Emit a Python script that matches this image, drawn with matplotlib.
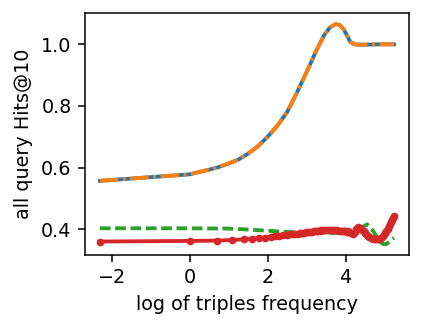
import numpy as np
import matplotlib
matplotlib.use('Agg')
import matplotlib.pyplot as plt

# upper curve (both metrics coincide)
x_top = [-2.30, 0.00, 0.25, 0.50, 0.75, 1.00, 1.25, 1.50, 1.75, 2.00, 2.25,
         2.50, 2.75, 3.00, 3.25, 3.45, 3.60, 3.75, 3.85, 3.95, 4.05, 4.12,
         4.20, 4.30, 4.50, 4.80, 5.00, 5.24]
y_top = [0.557, 0.578, 0.586, 0.593, 0.602, 0.613, 0.626, 0.645, 0.669, 0.700,
         0.736, 0.780, 0.843, 0.910, 0.980, 1.030, 1.055, 1.066, 1.062, 1.049,
         1.025, 1.008, 1.001, 0.999, 0.999, 1.000, 1.000, 1.000]

# green dashed curve
x_green = [-2.30, 0.00, 1.00, 1.50, 2.00, 2.50, 3.00, 3.50, 4.00, 4.20, 4.40,
           4.55, 4.70, 4.85, 4.95, 5.05, 5.15, 5.24]
y_green = [0.403, 0.403, 0.402, 0.399, 0.395, 0.391, 0.389, 0.388, 0.388, 0.390,
           0.405, 0.416, 0.395, 0.365, 0.352, 0.352, 0.363, 0.372]

# red curve, one point per triple frequency
freq = [0.1, 1, 2, 3, 4, 5, 6, 7, 8, 9, 10, 11, 12, 13, 14, 15, 16, 17, 18, 19,
        20, 21, 22, 23, 24, 25, 26, 27, 28, 29, 30, 32, 34, 36, 38, 40, 42, 44,
        46, 48, 50, 52, 54, 56, 58, 60, 63, 66, 69, 72, 75, 78, 81, 84, 87, 90,
        93, 96, 99, 105, 110, 115, 120, 125, 130, 135, 140, 145, 150, 155, 160,
        165, 170, 175, 180, 185, 190]
y_red = [0.360, 0.362, 0.363, 0.365, 0.367, 0.369, 0.371, 0.373, 0.375, 0.377,
         0.379, 0.380, 0.381, 0.383, 0.384, 0.385, 0.386, 0.387, 0.388, 0.389,
         0.390, 0.391, 0.392, 0.392, 0.393, 0.394, 0.394, 0.395, 0.395, 0.396,
         0.396, 0.397, 0.397, 0.397, 0.397, 0.396, 0.396, 0.396, 0.395, 0.395,
         0.394, 0.394, 0.393, 0.392, 0.393, 0.391, 0.389, 0.386, 0.390, 0.401,
         0.407, 0.405, 0.402, 0.397, 0.393, 0.389, 0.383, 0.378, 0.374, 0.371,
         0.369, 0.368, 0.368, 0.367, 0.368, 0.370, 0.374, 0.381, 0.388, 0.395,
         0.402, 0.409, 0.417, 0.424, 0.431, 0.437, 0.442]

fig = plt.figure(figsize=(423 / 138, 328 / 138), dpi=138)
ax = fig.add_axes([85 / 423, 1 - 255 / 328, 324 / 423, 242 / 328])

ax.plot(x_top, y_top, '-', color='C0', lw=2)
ax.plot(x_top, y_top, '-.', color='C1', lw=2, dashes=(4.8, 1.2, 0.75, 1.2))
ax.plot(x_green, y_green, '--', color='C2', lw=2, dashes=(2.8, 1.2))
ax.plot(np.log(freq), y_red, '.-', color='C3', lw=2, ms=6)

ax.set_xticks([-2, 0, 2, 4])
ax.set_yticks([0.4, 0.6, 0.8, 1.0])
ax.set_xlabel('log of triples frequency')
ax.set_ylabel('all query Hits@10')

fig.savefig('out.png', dpi=138)
